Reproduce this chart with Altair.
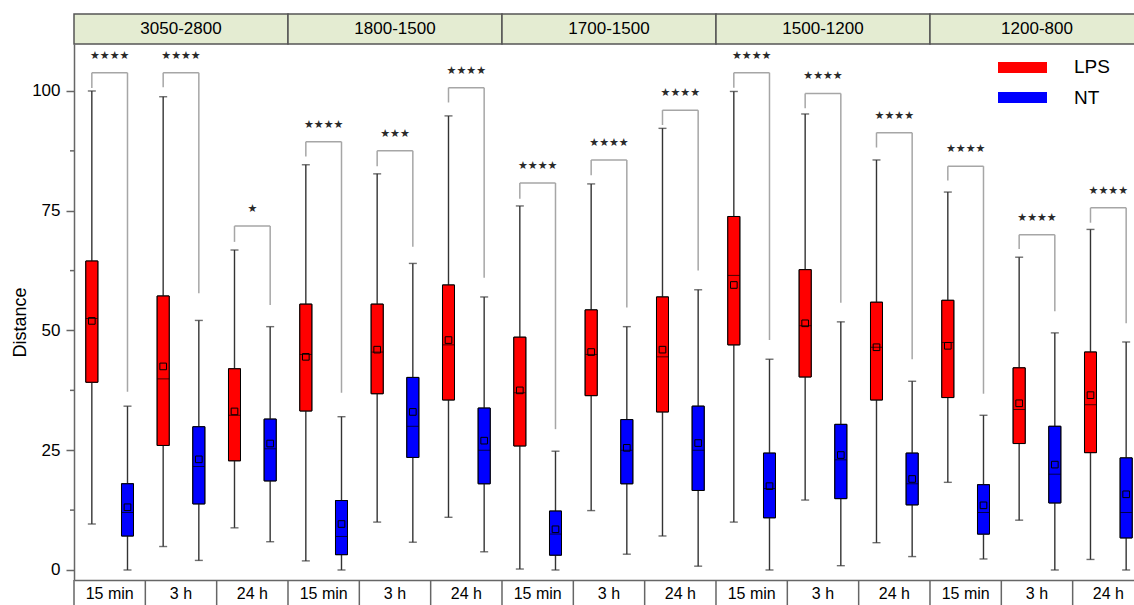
import altair as alt
import pandas as pd

panels = ["3050-2800", "1800-1500", "1700-1500", "1500-1200", "1200-800"]
times = ["15 min", "3 h", "24 h"]
conditions = ["LPS", "NT"]
colors = ["#ff0000", "#0000ff"]

# 15 groups: panel-major, then time (15 min, 3 h, 24 h)
lps_lo = [9.6, 4.9, 8.8, 1.9, 10.0, 11.0, 0.2, 12.4, 7.1, 10.0, 14.6, 5.7, 18.3, 10.4, 2.2]
lps_q1 = [39.2, 26.0, 22.8, 33.2, 36.8, 35.5, 25.9, 36.4, 33.0, 47.0, 40.3, 35.5, 36.0, 26.4, 24.5]
lps_med = [52.5, 39.9, 32.3, 45.0, 45.5, 47.0, 37.0, 45.0, 44.5, 61.5, 51.0, 46.5, 47.5, 33.5, 34.5]
lps_q3 = [64.5, 57.2, 42.0, 55.5, 55.5, 59.5, 48.6, 54.3, 57.0, 73.8, 62.7, 55.9, 56.3, 42.2, 45.5]
lps_hi = [100.0, 98.8, 66.8, 84.6, 82.7, 94.8, 76.0, 80.6, 92.2, 99.9, 95.2, 85.6, 78.9, 65.3, 71.1]
lps_mean = [52.0, 42.5, 33.1, 44.5, 46.0, 48.0, 37.5, 45.5, 46.0, 59.5, 51.5, 46.5, 46.8, 34.8, 36.5]

nt_lo = [0.0, 2.0, 5.9, 0.0, 5.8, 3.8, 0.0, 3.3, 0.8, 0.0, 0.9, 2.8, 2.3, 0.0, 0.0]
nt_q1 = [7.1, 13.8, 18.6, 3.2, 23.5, 18.0, 3.1, 18.0, 16.6, 10.9, 14.9, 13.6, 7.5, 14.0, 6.7]
nt_med = [12.0, 21.6, 25.3, 7.0, 30.0, 25.0, 7.5, 25.0, 25.0, 17.0, 23.0, 18.0, 12.0, 20.0, 12.0]
nt_q3 = [18.0, 29.9, 31.5, 14.5, 40.2, 33.8, 12.3, 31.4, 34.2, 24.4, 30.4, 24.4, 17.8, 30.0, 23.4]
nt_hi = [34.2, 52.1, 50.8, 32.0, 64.0, 57.0, 24.8, 50.8, 58.5, 44.0, 51.8, 39.4, 32.3, 49.5, 47.6]
nt_mean = [13.1, 23.1, 26.4, 9.6, 33.0, 27.0, 8.5, 25.5, 26.5, 17.5, 24.0, 19.0, 13.5, 22.0, 15.8]

# significance brackets
br_top = [103.8, 103.8, 71.8, 89.4, 87.5, 100.7, 80.8, 85.6, 96.0, 103.8, 99.5, 91.3, 84.3, 70.0, 75.6]
br_left_end = [100.6, 100.8, 68.5, 86.3, 84.3, 97.6, 77.5, 82.4, 92.9, 100.7, 96.4, 88.2, 81.3, 67.0, 72.5]
br_right_end = [37.2, 57.8, 55.3, 37.0, 67.5, 61.0, 29.4, 54.8, 62.5, 48.0, 55.8, 44.0, 36.8, 54.0, 51.5]
br_stars = ["****", "****", "*", "****", "***", "****", "****", "****", "****",
            "****", "****", "****", "****", "****", "****"]

major_ticks = [0, 25, 50, 75, 100]
minor_ticks = [12.5, 37.5, 62.5, 87.5]

# ---------- build tables ----------
rows = []
for i in range(15):
    rows.append(dict(group=i, cond="LPS", pos=i + 0.25, lo=lps_lo[i], q1=lps_q1[i],
                     med=lps_med[i], q3=lps_q3[i], hi=lps_hi[i], mean=lps_mean[i]))
    rows.append(dict(group=i, cond="NT", pos=i + 0.75, lo=nt_lo[i], q1=nt_q1[i],
                     med=nt_med[i], q3=nt_q3[i], hi=nt_hi[i], mean=nt_mean[i]))
box_df = pd.DataFrame(rows)

br_df = pd.DataFrame(dict(
    xl=[i + 0.25 for i in range(15)], xr=[i + 0.75 for i in range(15)],
    xc=[i + 0.5 for i in range(15)], top=br_top, lend=br_left_end,
    rend=br_right_end, stars=[s.replace("*", "\u2605") for s in br_stars]))

head_df = pd.DataFrame(dict(name=panels, start=[3 * k for k in range(5)],
                            end=[3 * k + 3 for k in range(5)],
                            mid=[3 * k + 1.5 for k in range(5)]))
lab_df = pd.DataFrame(dict(label=[times[i % 3] for i in range(15)],
                           mid=[i + 0.5 for i in range(15)]))
sep_df = pd.DataFrame(dict(b=list(range(16))))
minor_df = pd.DataFrame(dict(v=minor_ticks))

W, H = 1060, 536
xs = alt.Scale(domain=[0, 14.86], nice=False, zero=False, padding=0)
ys = alt.Scale(domain=[-2.09, 109.81], nice=False, zero=False, padding=0)
cs = alt.Scale(domain=conditions, range=colors)
FONT = "Liberation Sans"
AX = "#666666"


def X(f):
    return alt.X(f, type="quantitative", scale=xs)


def Y(f):
    return alt.Y(f, type="quantitative", scale=ys)


x_main = alt.X("pos:Q", scale=xs,
               axis=alt.Axis(title=None, labels=False, ticks=False, grid=False,
                             domainColor=AX, domainWidth=1.5))
y_main = alt.Y("q1:Q", scale=ys,
               axis=alt.Axis(values=major_ticks, grid=False, title="Distance",
                             labelOverlap=False, labelFontSize=17, labelColor="black",
                             labelFont=FONT, labelPadding=6,
                             tickSize=8, tickColor=AX, tickWidth=1.5,
                             domainColor=AX, domainWidth=1.5,
                             titleFont=FONT, titleFontSize=18, titleFontWeight="normal",
                             titleColor="black", titleX=-54, titleY=278,
                             titleAngle=-90, titleAlign="center", titleBaseline="middle"))

base = alt.Chart(box_df)

boxes = base.mark_bar(width=12, stroke="black", strokeWidth=1).encode(
    x=x_main, y=y_main, y2="q3:Q",
    fill=alt.Color("cond:N", scale=cs, legend=None))
whisk = base.mark_rule(color="#333333", strokeWidth=1.4).encode(
    x=X("pos"), y=Y("lo"), y2="hi:Q")
cap_hi = base.mark_tick(orient="horizontal", size=8, thickness=1.4, color="#333333").encode(
    x=X("pos"), y=Y("hi"))
cap_lo = base.mark_tick(orient="horizontal", size=8, thickness=1.4, color="#333333").encode(
    x=X("pos"), y=Y("lo"))
boxes_top = base.mark_bar(width=12, stroke="black", strokeWidth=1).encode(
    x=X("pos"), y=Y("q1"), y2="q3:Q",
    fill=alt.Color("cond:N", scale=cs, legend=None))
med = base.mark_tick(orient="horizontal", size=12, thickness=1, color="black").encode(
    x=X("pos"), y=Y("med"))
mean = base.mark_point(shape="square", size=44, filled=False, color="black", strokeWidth=1,
                       opacity=1).encode(x=X("pos"), y=Y("mean"))

minor = alt.Chart(minor_df).mark_rule(color=AX, strokeWidth=1.5).encode(
    x=alt.value(-4), x2=alt.value(0), y=Y("v"))

bb = alt.Chart(br_df)
BRC = "#a6a6a6"
leg_l = bb.mark_rule(color=BRC, strokeWidth=1.5).encode(x=X("xl"), y=Y("lend"), y2="top:Q")
leg_r = bb.mark_rule(color=BRC, strokeWidth=1.5).encode(x=X("xr"), y=Y("rend"), y2="top:Q")
bar_h = bb.mark_rule(color=BRC, strokeWidth=1.5).encode(x=X("xl"), x2="xr:Q", y=Y("top"))
stars = bb.mark_text(fontSize=11, dy=-17, color="#2a2a2a", font="DejaVu Sans").encode(
    x=X("xc"), y=Y("top"), text="stars:N")

hb = alt.Chart(head_df)
head_rect = hb.mark_rect(fill="#e4ecd2", stroke="#555555", strokeWidth=1.5).encode(
    x=X("start"), x2="end:Q", y=alt.value(-30), y2=alt.value(0))
head_txt = hb.mark_text(fontSize=17, font=FONT, color="black", baseline="middle").encode(
    x=X("mid"), y=alt.value(-15), text="name:N")

labs = alt.Chart(lab_df).mark_text(fontSize=16, font=FONT, color="black", baseline="middle").encode(
    x=X("mid"), y=alt.value(H + 14), text="label:N")
seps = alt.Chart(sep_df).mark_rule(color=AX, strokeWidth=1.5).encode(
    x=X("b"), y=alt.value(H), y2=alt.value(H + 30))

# legend
leg_df = pd.DataFrame(dict(cond=conditions))
leg_lps_r = alt.Chart(leg_df).transform_filter("datum.cond == 'LPS'").mark_rect(color="#ff0000").encode(
    x=alt.value(924), x2=alt.value(973), y=alt.value(18), y2=alt.value(29))
leg_nt_r = alt.Chart(leg_df).transform_filter("datum.cond == 'NT'").mark_rect(color="#0000ff").encode(
    x=alt.value(924), x2=alt.value(973), y=alt.value(48), y2=alt.value(59))
leg_lps_t = alt.Chart(leg_df).transform_filter("datum.cond == 'LPS'").mark_text(
    fontSize=19, font=FONT, align="left", baseline="middle", color="black").encode(
    x=alt.value(1000), y=alt.value(23), text="cond:N")
leg_nt_t = alt.Chart(leg_df).transform_filter("datum.cond == 'NT'").mark_text(
    fontSize=19, font=FONT, align="left", baseline="middle", color="black").encode(
    x=alt.value(1000), y=alt.value(54), text="cond:N")

chart = alt.layer(
    boxes, whisk, boxes_top, cap_hi, cap_lo, med, mean, minor,
    leg_l, leg_r, bar_h, stars,
    head_rect, head_txt, seps, labs,
    leg_lps_r, leg_nt_r, leg_lps_t, leg_nt_t,
).properties(
    width=W, height=H,
    autosize=alt.AutoSizeParams(type="none"),
    padding={"left": 74, "top": 44, "right": 0, "bottom": 25},
    background="white",
).configure_view(stroke=None)

chart.save("out.html", embed_options={"renderer": "svg", "actions": False})
